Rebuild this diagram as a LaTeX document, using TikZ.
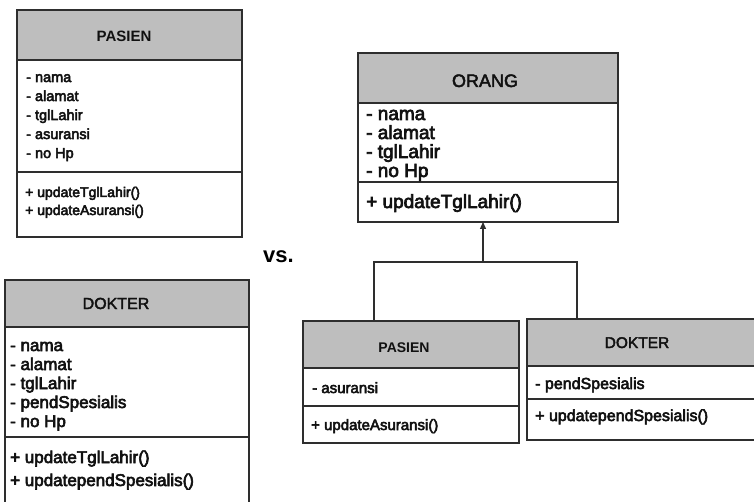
\documentclass[tikz,border=0pt]{standalone}
\usepackage{fontspec}
\setmainfont{Liberation Sans}
\newfontfamily\umlfont[FakeBold=3.5]{Liberation Sans}
\newfontfamily\umltitlefont[FakeBold=2.5]{Liberation Sans}
\usetikzlibrary{arrows.meta}
\definecolor{umlhead}{HTML}{BEBEBE}
\definecolor{umledge}{HTML}{2E2E2E}
\definecolor{umltext}{HTML}{111111}
\newcommand{\umlsize}[1]{\fontsize{#1}{#1}\selectfont}
\begin{document}
\begin{tikzpicture}[x=1pt,y=-1pt,
  part/.style={draw=umledge, line width=2.6pt, anchor=north west,
    inner sep=0pt, outer sep=0pt},
  head/.style={part, fill=umlhead},
  body/.style={part, fill=white},
  member/.style={anchor=base west, inner sep=0pt, text=umltext},
  title/.style={anchor=base, inner sep=0pt, text=umltext},
  link/.style={draw=umledge, line width=1.3pt},
  inherit/.style={link, -{Triangle[length=7pt,width=6pt]}}
]
\useasboundingbox (0,0) rectangle (754,502);
\clip (0,0) rectangle (754,502);

% ---------- PASIEN (standalone class) ----------
\node[body, minimum width=225pt, minimum height=65pt]  (p1-ops)  at (17,172) {};
\node[body, minimum width=225pt, minimum height=112pt] (p1-attr) at (17,60) {};
\node[head, minimum width=225pt, minimum height=50pt]  (p1-head) at (17,10) {};
\node[title, font=\bfseries\umlsize{15}] (p1-name) at (124,42) {PASIEN};
\foreach \t [count=\i] in {- nama, - alamat, - tglLahir, - asuransi, - no Hp}
  \node[member, font=\umlfont\umlsize{14.5}] (p1-a\i) at (26,{82+19*(\i-1)}) {\t};
\foreach \t [count=\i] in {+ updateTglLahir(), + updateAsuransi()}
  \node[member, font=\umlfont\umlsize{14}] (p1-m\i) at (25,{197+18*(\i-1)}) {\t};

% ---------- DOKTER (standalone class) ----------
\node[body, minimum width=244pt, minimum height=80pt]  (d1-ops)  at (5,437) {};
\node[body, minimum width=244pt, minimum height=110pt] (d1-attr) at (5,327) {};
\node[head, minimum width=244pt, minimum height=47pt]  (d1-head) at (5,280) {};
\node[title, font=\umltitlefont\umlsize{16}] (d1-name) at (116,309) {DOKTER};
\foreach \t [count=\i] in {- nama, - alamat, - tglLahir, - pendSpesialis, - no Hp}
  \node[member, font=\umlfont\umlsize{17}] (d1-a\i) at (10,{351+19*(\i-1)}) {\t};
\foreach \t [count=\i] in {+ updateTglLahir(), + updatependSpesialis()}
  \node[member, font=\umlfont\umlsize{17}] (d1-m\i) at (10,{463+23*(\i-1)}) {\t};

\node[anchor=base west, inner sep=0pt, font=\bfseries\umlsize{22}] (versus) at (263,263) {vs.};

% ---------- ORANG (superclass) ----------
\node[body, minimum width=260pt, minimum height=40pt] (or-ops)  at (358,182) {};
\node[body, minimum width=260pt, minimum height=79pt] (or-attr) at (358,103) {};
\node[head, minimum width=260pt, minimum height=50pt] (or-head) at (358,53) {};
\node[title, font=\umltitlefont\umlsize{18}] (or-name) at (485,87) {ORANG};
\foreach \t [count=\i] in {- nama, - alamat, - tglLahir, - no Hp}
  \node[member, font=\umlfont\umlsize{19}] (or-a\i) at (366,{120+19*(\i-1)}) {\t};
\node[member, font=\umlfont\umlsize{19}] (or-m1) at (366,208) {+ updateTglLahir()};

% ---------- PASIEN (subclass) ----------
\node[body, minimum width=216pt, minimum height=37pt] (p2-ops)  at (303,406) {};
\node[body, minimum width=216pt, minimum height=38pt] (p2-attr) at (303,368) {};
\node[head, minimum width=216pt, minimum height=47pt] (p2-head) at (303,321) {};
\node[title, font=\bfseries\umlsize{14}] (p2-name) at (404,352) {PASIEN};
\node[member, font=\umlfont\umlsize{15}] (p2-a1) at (312,393) {- asuransi};
\node[member, font=\umlfont\umlsize{15}] (p2-m1) at (311,430) {+ updateAsuransi()};

% ---------- DOKTER (subclass) ----------
\node[body, minimum width=240pt, minimum height=41pt] (d2-ops)  at (527,399) {};
\node[body, minimum width=240pt, minimum height=33pt] (d2-attr) at (527,366) {};
\node[head, minimum width=240pt, minimum height=47pt] (d2-head) at (527,319) {};
\node[title, font=\umltitlefont\umlsize{15.5}] (d2-name) at (637,348) {DOKTER};
\node[member, font=\umlfont\umlsize{16}] (d2-a1) at (535,389) {- pendSpesialis};
\node[member, font=\umlfont\umlsize{16}] (d2-m1) at (535,421) {+ updatependSpesialis()};

% ---------- generalisation ----------
\coordinate (fork) at (483,262);
\coordinate (p2-port) at (374,321);
\coordinate (d2-port) at (577,319);
\draw[link] (p2-port) |- (fork) -| (d2-port);
\draw[inherit] (fork) -- (fork |- or-ops.south);
\end{tikzpicture}
\end{document}
